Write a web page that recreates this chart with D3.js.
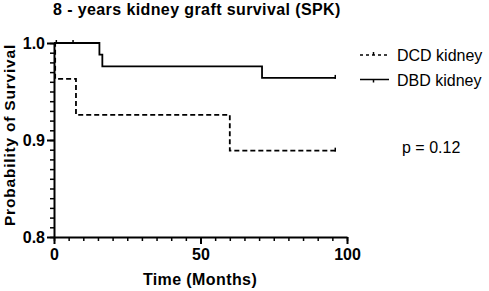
<!DOCTYPE html>
<html>
<head>
<meta charset="utf-8">
<script src="https://cdn.jsdelivr.net/npm/d3@7"></script>
<style>
  body { margin: 0; background: #fff; }
  svg { font-family: "Liberation Sans", Arial, sans-serif; }
</style>
</head>
<body>
<div id="chart"></div>
<script>
// survival steps: [time in months, survival]
var dcdSteps = [[0, 1.0], [0.4, 0.963], [7.5, 0.926], [60, 0.889], [96, 0.889]];
var dbdSteps = [[0, 1.0], [15.5, 0.988], [16.5, 0.976], [71, 0.964], [96, 0.964]];
// censor marks
var dcdCensor = [[96, 0.889]];
var dbdCensor = [[0.8, 1.0], [6.5, 1.0], [96, 0.964]];

var xTicks = [0, 50, 100];
var yTicks = [0.8, 0.9, 1.0];
var seriesNames = ["DCD kidney", "DBD kidney"];

var width = 489, height = 291;
var svg = d3.select("#chart").append("svg").attr("width", width).attr("height", height);

// scales
var x = d3.scaleLinear().domain([0, 100]).range([54, 347]);
var y = d3.scaleLinear().domain([0.8, 1.0]).range([237, 43]);

// title
svg.append("text")
   .attr("x", 53).attr("y", 15)
   .style("font-weight", "bold").style("font-size", "16px").style("letter-spacing", "0.4px")
   .text("8 - years kidney graft survival (SPK)");

// minor ticks first, then the main axes on top
var xMinor = d3.axisBottom(x).tickValues(d3.range(0, 101, 5)).tickSize(4).tickFormat("");
svg.append("g").attr("transform", "translate(0,237)").call(xMinor)
   .call(function(g){ g.select(".domain").remove(); g.selectAll("line").attr("stroke-width", 1.5); });

var yMinor = d3.axisLeft(y).tickValues(d3.range(80, 101, 1).map(function(d){ return d / 100; })).tickSize(4).tickFormat("");
svg.append("g").attr("transform", "translate(54,0)").call(yMinor)
   .call(function(g){ g.select(".domain").remove(); g.selectAll("line").attr("stroke-width", 1.5); });

var xAxis = d3.axisBottom(x).tickValues(xTicks).tickSizeInner(7).tickSizeOuter(0).tickPadding(5);
svg.append("g").attr("transform", "translate(0,237)").call(xAxis)
   .call(function(g){
     g.select(".domain").attr("stroke-width", 2);
     g.selectAll("line").attr("stroke-width", 2);
     g.selectAll("text").style("font-size", "16px").style("font-weight", "bold").attr("fill", "#000");
   });

var yAxis = d3.axisLeft(y).tickValues(yTicks).tickFormat(d3.format(".1f")).tickSizeInner(7).tickSizeOuter(0).tickPadding(2);
svg.append("g").attr("transform", "translate(54,0)").call(yAxis)
   .call(function(g){
     g.select(".domain").attr("stroke-width", 2);
     g.selectAll("line").attr("stroke-width", 2);
     g.selectAll("text").style("font-size", "16px").style("font-weight", "bold").attr("fill", "#000");
   });

// axis labels
svg.append("text")
   .attr("x", 200).attr("y", 285)
   .attr("text-anchor", "middle")
   .style("font-weight", "bold").style("font-size", "16px").style("letter-spacing", "0.4px")
   .text("Time (Months)");

svg.append("text")
   .attr("transform", "translate(15,135) rotate(-90)")
   .attr("text-anchor", "middle")
   .style("font-weight", "bold").style("font-size", "15.5px").style("letter-spacing", "0.8px")
   .text("Probability of Survival");

// curves
var line = d3.line()
   .x(function(d){ return x(d[0]); })
   .y(function(d){ return y(d[1]); })
   .curve(d3.curveStepAfter);

svg.append("path").datum(dcdSteps)
   .attr("d", line).attr("fill", "none").attr("stroke", "#000")
   .attr("stroke-width", 1.8).attr("stroke-dasharray", "5,3");

svg.append("path").datum(dbdSteps)
   .attr("d", line).attr("fill", "none").attr("stroke", "#000")
   .attr("stroke-width", 1.8);

svg.selectAll(".censor")
   .data(dcdCensor.concat(dbdCensor)).enter().append("line")
   .attr("x1", function(d){ return x(d[0]); })
   .attr("x2", function(d){ return x(d[0]); })
   .attr("y1", function(d){ return y(d[1]) - 3; })
   .attr("y2", function(d){ return y(d[1]) + 1; })
   .attr("stroke", "#000").attr("stroke-width", 1.5);

// legend
var legend = svg.append("g").attr("transform", "translate(360,55)");
seriesNames.forEach(function(name, i){
  var row = legend.append("g").attr("transform", "translate(0," + (i * 24.5) + ")");
  row.append("line").attr("x1", 0).attr("x2", 29).attr("y1", 0).attr("y2", 0)
     .attr("stroke", "#000").attr("stroke-width", 1.5)
     .attr("stroke-dasharray", i === 0 ? "3,3" : null);
  row.append("line").attr("x1", 13.5).attr("x2", 13.5).attr("y1", i === 0 ? -3 : 0).attr("y2", i === 0 ? 0 : 3)
     .attr("stroke", "#000").attr("stroke-width", 1.5);
  row.append("text").attr("x", 37).attr("y", 6)
     .style("font-size", "16px")
     .text(name);
});

svg.append("text")
   .attr("x", 402).attr("y", 153)
   .style("font-size", "16px")
   .text("p = 0.12");
</script>
</body>
</html>
